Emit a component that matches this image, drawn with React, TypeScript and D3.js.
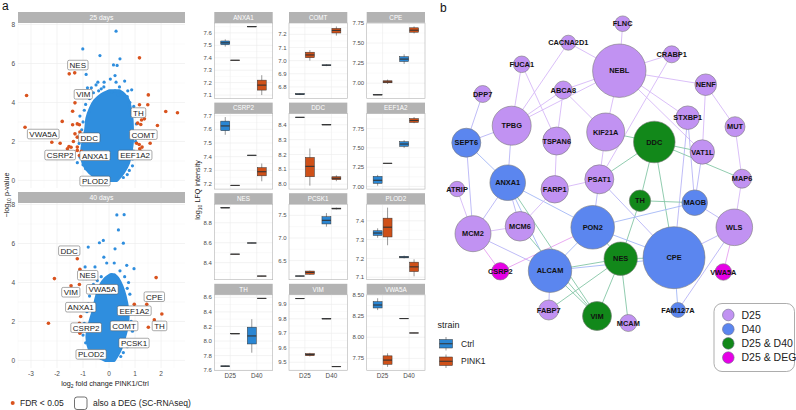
import React from "react";
import * as d3 from "d3";

const W = 796, H = 410;
const FONT = "'Liberation Sans', Arial, Helvetica, sans-serif";

// ---------- Volcano data ----------
const volcanoFacets = ["25 days", "40 days"];
const volcanoXTicks = [-3, -2, -1, 0, 1, 2];
const volcanoYTicks = [0, 2, 4, 6, 8];

const sig25: number[][] = [[-3.17,4.36],[-3.23,2.73],[-2.2,1.96],[-1.88,1.91],[-1.8,3.03],[-1.53,5.47],[-1.32,5.52],[-1.4,3.55],[-1.31,3.98],[-1.4,2.86],[-1.22,2.9],[-1.14,2.86],[-1.31,2.39],[-1.22,2.22],[-1.37,2.0],[-1.54,1.74],[-1.6,1.62],[-1.46,1.7],[-1.22,1.71],[-1.22,1.54],[-1.14,1.28],[-1.06,1.5],[-1.12,2.48],[1.17,6.29],[1.51,4.39],[1.17,3.88],[1.49,3.88],[1.32,3.45],[1.36,3.16],[1.25,3.1],[1.1,2.94],[1.22,2.87],[1.86,2.82],[2.18,3.54],[2.63,3.47],[1.06,1.91],[1.16,1.84],[1.27,1.71],[1.18,1.62],[1.58,1.91],[1.22,1.5]];
const blue25: number[][] = [[0.27,7.66],[-1.01,6.75],[-0.35,6.41],[0.17,5.93],[0.31,5.9],[0.42,6.24],[0.23,5.38],[-0.88,5.44],[-0.43,5.04],[-0.19,5.04],[0.27,5.04],[-0.83,4.75],[-0.68,4.75],[0.23,4.6],[0.87,4.65],[-1.22,0.91],[0.78,0.51],[-0.6,4.5],[-0.4,4.6],[0.1,4.55],[0.5,4.5],[0.7,4.3],[-0.75,4.2],[0.95,3.8],[1.0,3.3],[-0.95,3.6],[-1.0,3.0],[-1.05,2.6],[1.0,2.5],[-1.15,1.9],[0.95,1.5],[0.9,1.1],[-1.0,0.8],[-0.9,0.6],[0.7,0.3],[-0.5,0.2],[0.8,4.0],[-0.5,4.9],[0.05,5.2],[0.6,5.1],[-0.2,4.8],[0.4,4.8],[-0.9,3.9],[0.92,3.55],[-1.08,2.2],[1.02,2.0],[-1.12,1.2],[0.9,0.75],[-0.7,0.1],[0.55,0.15],[-0.3,4.7],[0.35,4.4],[0.72,4.6],[-0.8,4.45],[1.05,2.9],[-1.12,3.3]];
const cloud25: number[][] = [[0.0,-0.25,0.3],[0.4,-0.75,0.55],[0.9,-1.0,0.75],[1.5,-1.05,0.85],[2.0,-1.0,0.9],[2.6,-0.9,0.9],[3.2,-0.85,0.88],[3.7,-0.72,0.82],[4.1,-0.55,0.75],[4.4,-0.3,0.6],[4.6,0.0,0.4]];
const labels25: [string, number, number][] = [["NES",-1.2,5.92],["VIM",-0.99,4.42],["TH",1.13,3.48],["VWA5A",-2.53,2.38],["COMT",1.32,2.35],["DDC",-0.76,2.19],["CSRP2",-1.88,1.3],["ANXA1",-0.54,1.27],["EEF1A2",1.0,1.3],["PLOD2",-0.54,-0.03]];

const sig40: number[][] = [[-2.1,4.2],[-2.33,1.91],[-1.22,5.22],[-1.12,4.68],[-1.46,3.83],[-1.14,3.9],[-1.57,2.67],[-1.09,2.25],[-1.14,1.91],[-1.12,1.4],[-1.06,1.5],[0.97,2.88],[1.45,2.88],[1.81,4.25],[2.03,2.38],[1.74,2.08],[1.51,1.7]];
const blue40: number[][] = [[0.3,7.47],[0.58,7.48],[0.36,6.7],[-0.22,6.16],[-0.37,6.04],[0.55,6.02],[0.23,5.73],[-0.8,5.82],[-0.09,5.0],[-0.54,4.8],[-0.92,4.8],[0.68,4.88],[0.96,4.71],[0.42,4.6],[-0.55,4.5],[-0.88,4.2],[-0.3,4.3],[0.1,4.4],[0.6,4.3],[0.75,4.0],[-0.6,3.9],[-0.75,3.3],[0.8,3.4],[0.85,2.7],[-0.85,2.5],[-0.95,1.9],[0.85,2.0],[-1.0,1.3],[0.75,1.0],[-0.9,0.9],[-0.7,0.5],[0.55,0.4],[-0.3,0.1],[0.9,1.5],[-0.2,5.3],[0.2,5.0],[-0.45,4.1],[0.3,4.2],[-0.65,3.6],[0.7,3.7],[-0.8,2.9],[0.8,2.4],[-0.92,1.6],[0.7,0.7],[-0.5,0.25],[0.45,0.2]];
const cloud40: number[][] = [[0,-0.15,0.2],[0.5,-0.72,0.42],[1.2,-0.85,0.6],[1.9,-0.75,0.72],[2.6,-0.6,0.72],[3.3,-0.48,0.62],[3.8,-0.36,0.5],[4.2,-0.15,0.35],[4.4,0.05,0.2]];
const labels40: [string, number, number][] = [["DDC",-1.53,5.63],["NES",-0.82,4.37],["VIM",-1.47,3.5],["VWA5A",-0.26,3.65],["CPE",1.74,3.27],["ANXA1",-1.09,2.73],["EEF1A2",0.97,2.55],["CSRP2",-0.88,1.68],["COMT",0.58,1.77],["TH",1.94,1.77],["PCSK1",0.96,0.89],["PLOD2",-0.69,0.31]];

// ---------- Box plot data ----------
const boxGenes = ["ANXA1","COMT","CPE","CSRP2","DDC","EEF1A2","NES","PCSK1","PLOD2","TH","VIM","VWA5A"];
const days = ["D25", "D40"];
const strains = ["Ctrl", "PINK1"];
// order: D25-Ctrl, D25-PINK1, D40-Ctrl, D40-PINK1 ; [lo, q1, median, q3, hi]
const anxa1 = [[7.49,7.505,7.52,7.535,7.548],[7.378,7.379,7.38,7.381,7.382],[7.648,7.649,7.65,7.651,7.652],[7.10,7.14,7.18,7.22,7.26]];
const comt = [[6.738,6.741,6.745,6.749,6.752],[7.0,7.022,7.043,7.064,7.08],[6.958,6.962,6.965,6.968,6.972],[7.19,7.21,7.23,7.245,7.26]];
const cpe = [[6.852,6.853,6.855,6.857,6.858],[6.99,7.005,7.015,7.03,7.045],[7.24,7.27,7.3,7.33,7.36],[7.62,7.635,7.66,7.69,7.707]];
const csrp2 = [[7.56,7.59,7.625,7.66,7.69],[7.188,7.189,7.19,7.191,7.192],[7.408,7.409,7.41,7.411,7.412],[7.22,7.26,7.29,7.32,7.35]];
const ddc = [[8.448,8.449,8.45,8.451,8.452],[7.99,8.05,8.12,8.18,8.24],[8.398,8.399,8.4,8.401,8.402],[8.02,8.03,8.04,8.05,8.06]];
const eef1a2 = [[7.01,7.04,7.08,7.13,7.15],[7.298,7.299,7.3,7.301,7.302],[7.5,7.52,7.55,7.58,7.6],[7.82,7.83,7.855,7.88,7.9]];
const nes = [[8.948,8.949,8.95,8.951,8.952],[8.483,8.484,8.485,8.486,8.487],[8.595,8.596,8.597,8.598,8.599],[8.263,8.264,8.265,8.266,8.267]];
const pcsk1 = [[6.155,6.157,6.16,6.163,6.165],[6.19,6.2,6.24,6.27,6.28],[7.25,7.31,7.39,7.47,7.55],[7.63,7.64,7.65,7.66,7.67]];
const plod2 = [[7.31,7.322,7.335,7.347,7.36],[7.27,7.314,7.366,7.414,7.47],[7.2,7.203,7.207,7.211,7.215],[7.105,7.13,7.155,7.18,7.195]];
const th = [[7.646,7.65,7.655,7.66,7.662],[8.098,8.099,8.1,8.101,8.102],[7.84,7.96,8.07,8.19,8.3],[8.583,8.584,8.585,8.586,8.587]];
const vim = [[9.938,9.939,9.94,9.941,9.942],[9.54,9.545,9.553,9.56,9.565],[9.798,9.799,9.8,9.801,9.802],[9.468,9.469,9.47,9.471,9.472]];
const vwa5a = [[8.32,8.345,8.38,8.42,8.46],[7.65,7.68,7.73,7.78,7.81],[8.218,8.219,8.22,8.221,8.222],[8.048,8.049,8.05,8.051,8.052]];
const boxData = [anxa1, comt, cpe, csrp2, ddc, eef1a2, nes, pcsk1, plod2, th, vim, vwa5a];
const boxTicks = [[7.1,7.2,7.3,7.4,7.5,7.6],[6.8,6.9,7.0,7.1,7.2],[7.0,7.25,7.5,7.75],[7.2,7.3,7.4,7.5,7.6,7.7],[8.0,8.1,8.2,8.3,8.4],[7.0,7.25,7.5,7.75],[8.4,8.6,8.8],[6.5,7.0,7.5],[7.1,7.2,7.3,7.4],[7.6,7.8,8.0,8.2,8.4,8.6],[9.5,9.6,9.7,9.8,9.9],[7.75,8.0,8.25,8.5]];
const boxTickDigits = [1,1,2,1,1,2,1,1,1,1,1,2];

// ---------- Network data ----------
const nodeNames = ["CACNA2D1","FUCA1","DPP7","ABCA8","TPBG","SEPT6","TSPAN6","ANXA1","FARP1","ATRIP","KIF21A","PSAT1","FLNC","CRABP1","NEBL","NENF","STXBP1","MUT","DDC","VAT1L","MAP6","TH","MAOB","PON2","MCM6","MCM2","CSRP2","ALCAM","FABP7","NES","CPE","WLS","VWA5A","VIM","MCAM","FAM127A"];
const nodeX = [128.3,81.7,42.7,123.3,71.7,26.3,116.7,67.7,114.7,17,165.7,159.3,182.7,231.7,179.3,265.7,247.7,295,214.3,262.3,302,200,254.7,152.7,80,33,60.3,110,108.7,180.7,234,294.3,283.3,157,188.3,238];
const nodeY = [42.7,64.3,94,90,125.7,142.7,141,182.7,189.3,189,132,179.3,23.7,54.3,70.7,84.7,117.7,126.7,142,152,178.7,200.7,202.7,227.3,226.3,233.7,271.3,270.7,310,258.7,257.7,227.3,272,316,323,310];
const nodeSize = [7.5,8.3,8.5,9,19.5,14.5,14,17.8,13.7,7.7,19,14.5,7.8,8.5,26.7,10.8,11.8,10,20.8,12.2,9.5,10.7,12.8,21.8,14.8,18,8.7,21.7,10,16.7,31,18.3,8.3,14.5,8.5,7.5];
const nodeGroup = ["D25","D25","D25","D25","D25","D40","D25","D40","D25","D25","D25","D25","D25","D25","D25","D25","D25","D25","D25 & D40","D25","D25","D25 & D40","D40","D40","D25","D25","D25 & DEG","D40","D25","D25 & D40","D40","D25","D25 & DEG","D25 & D40","D25","D40"];
const groupNames = ["D25","D40","D25 & D40","D25 & DEG"];
const groupColors = ["#c192f2","#5b86ef","#12881a","#e600e6"];
const edges: [string, string][] = [
["FLNC","NEBL"],["NEBL","CRABP1"],["NEBL","CACNA2D1"],["NEBL","NENF"],["NEBL","KIF21A"],["NEBL","STXBP1"],["NEBL","VAT1L"],["NEBL","TPBG"],["NEBL","ABCA8"],
["CRABP1","PSAT1"],["NENF","VAT1L"],["NENF","MUT"],["MUT","MAP6"],["MAP6","WLS"],["STXBP1","CPE"],["STXBP1","MAOB"],
["DDC","VAT1L"],["DDC","MAP6"],["DDC","TH"],["DDC","CPE"],["DDC","PSAT1"],["DDC","KIF21A"],
["VAT1L","MAOB"],["TH","MAOB"],["TH","NES"],["MAOB","WLS"],["MAOB","PON2"],["CPE","WLS"],["CPE","FAM127A"],["WLS","FAM127A"],["WLS","VWA5A"],
["CPE","NES"],["CPE","PSAT1"],["CPE","ALCAM"],["NES","ALCAM"],["NES","VIM"],["NES","MCAM"],["NES","PON2"],["NES","FABP7"],
["ALCAM","VIM"],["ALCAM","FABP7"],["ALCAM","MCM2"],["ALCAM","PON2"],["ALCAM","ANXA1"],["CSRP2","PON2"],["CSRP2","MCM2"],
["MCM2","ANXA1"],["MCM2","MCM6"],["MCM2","SEPT6"],["MCM2","ATRIP"],["ANXA1","TPBG"],["ANXA1","PON2"],["ANXA1","MCM6"],["ANXA1","SEPT6"],
["SEPT6","TPBG"],["SEPT6","DPP7"],["TPBG","ABCA8"],["TPBG","CACNA2D1"],["ABCA8","TSPAN6"],["ABCA8","KIF21A"],["FUCA1","TSPAN6"],["FUCA1","TPBG"],
["TSPAN6","FARP1"],["FARP1","PSAT1"],["FARP1","MCM6"],["PSAT1","KIF21A"],["PSAT1","PON2"],["MCM6","VIM"],["PON2","CPE"],["ANXA1","VIM"]];

// ---------- helpers ----------
const RED = "#d9531e";
const BLUE = "#2f8ede";
const CTRL = "#2a86d3";
const PINK = "#cf5018";
const GRID = "#ebebeb";
const GRIDMINOR = "#f4f4f4";
const STRIP = "#b3b3b3";

let _ctx: CanvasRenderingContext2D | null = null;
function measure(text: string, font: string): number {
  if (!_ctx) _ctx = document.createElement("canvas").getContext("2d");
  if (!_ctx) return text.length * 5;
  _ctx.font = font;
  return _ctx.measureText(text).width;
}

const VX0 = 18, VX1 = 185;

function Volcano(props: { top: number; bottom: number; title: string; sig: number[][]; blue: number[][]; cloud: number[][]; labels: [string, number, number][]; showX: boolean }) {
  const { top, bottom, title, sig, blue, cloud, labels, showX } = props;
  const x = d3.scaleLinear().domain([-3.5, 2.92]).range([VX0, VX1]);
  const y = d3.scaleLinear().domain([-0.39, 8.08]).range([bottom, top]);
  const area = d3.area<number[]>().y(d => y(d[0])).x0(d => x(d[1])).x1(d => x(d[2])).curve(d3.curveCatmullRom);
  const minorX = d3.range(-3.5, 3, 1);
  const minorY = [1, 3, 5, 7];
  const lf = `8px ${FONT}`;
  return (
    <g>
      <rect x={VX0} y={top - 11} width={VX1 - VX0} height={11} fill={STRIP} />
      <text x={(VX0 + VX1) / 2} y={top - 3.2} textAnchor="middle" fontSize={6.8} fill="white">{title}</text>
      {minorX.map(v => <line key={"mx" + v} x1={x(v)} x2={x(v)} y1={top} y2={bottom} stroke={GRIDMINOR} strokeWidth={0.5} />)}
      {minorY.map(v => <line key={"my" + v} x1={VX0} x2={VX1} y1={y(v)} y2={y(v)} stroke={GRIDMINOR} strokeWidth={0.5} />)}
      {volcanoXTicks.map(v => <line key={"gx" + v} x1={x(v)} x2={x(v)} y1={top} y2={bottom} stroke={GRID} strokeWidth={0.6} />)}
      {volcanoYTicks.map(v => <line key={"gy" + v} x1={VX0} x2={VX1} y1={y(v)} y2={y(v)} stroke={GRID} strokeWidth={0.6} />)}
      {volcanoYTicks.map(v => <text key={"ty" + v} x={VX0 - 3} y={y(v) + 2.3} textAnchor="end" fontSize={6.5} fill="#4d4d4d">{v}</text>)}
      {showX && volcanoXTicks.map(v => <text key={"tx" + v} x={x(v)} y={bottom + 8} textAnchor="middle" fontSize={6.5} fill="#4d4d4d">{v}</text>)}
      <path d={area(cloud) || ""} fill={BLUE} stroke={BLUE} strokeWidth={3} strokeLinejoin="round" />
      {blue.map((d, i) => <circle key={"b" + i} cx={x(d[0])} cy={y(d[1])} r={1.6} fill={BLUE} />)}
      {sig.map((d, i) => <circle key={"s" + i} cx={x(d[0])} cy={y(d[1])} r={1.8} fill={RED} />)}
      {labels.map(([name, lx, ly]) => {
        const w = measure(name, lf) + 4;
        const cx = x(lx), cy = y(ly);
        return (
          <g key={name}>
            <rect x={cx - w / 2} y={cy - 4.8} width={w} height={9.6} rx={1.5} fill="white" stroke="#555" strokeWidth={0.5} />
            <text x={cx} y={cy + 2.9} textAnchor="middle" fontSize={8} fill="#222">{name}</text>
          </g>
        );
      })}
    </g>
  );
}

const BCOLS = [[214.3, 272.7], [289, 347.3], [366.7, 425]];

function BoxPanel(props: { idx: number }) {
  const i = props.idx;
  const row = Math.floor(i / 3), col = i % 3;
  const [x0, x1] = BCOLS[col];
  const stripTop = 12 + row * 90.6;
  const top = stripTop + 11, bottom = stripTop + 86.5;
  const data = boxData[i];
  const lo = d3.min(data, d => d[0]) as number;
  const hi = d3.max(data, d => d[4]) as number;
  const pad = (hi - lo) * 0.05;
  const y = d3.scaleLinear().domain([lo - pad, hi + pad]).range([bottom, top]);
  const x = d3.scaleLinear().domain([0.4, 2.6]).range([x0, x1]);
  const eps = (hi - lo) * 0.01;
  const ticks = boxTicks[i].filter(t => t >= lo - pad - eps && t <= hi + pad + eps);
  const minor: number[] = [];
  const step = boxTicks[i][1] - boxTicks[i][0];
  for (let t = boxTicks[i][0] - step / 2; t <= hi + pad; t += step) if (t >= lo - pad) minor.push(t);
  const hw = 0.16875;
  return (
    <g>
      <rect x={x0} y={stripTop} width={x1 - x0} height={11} fill={STRIP} />
      <text x={(x0 + x1) / 2} y={stripTop + 7.8} textAnchor="middle" fontSize={6.3} fill="white">{boxGenes[i]}</text>
      {minor.map((t, k) => <line key={"m" + k} x1={x0} x2={x1} y1={y(t)} y2={y(t)} stroke={GRIDMINOR} strokeWidth={0.5} />)}
      {ticks.map(t => <line key={"g" + t} x1={x0} x2={x1} y1={y(t)} y2={y(t)} stroke={GRID} strokeWidth={0.6} />)}
      {[1, 2].map(d => <line key={"v" + d} x1={x(d)} x2={x(d)} y1={top} y2={bottom} stroke={GRID} strokeWidth={0.6} />)}
      {ticks.map(t => <text key={"t" + t} x={x0 - 2.5} y={y(t) + 2.1} textAnchor="end" fontSize={6} fill="#4d4d4d">{t.toFixed(boxTickDigits[i])}</text>)}
      {data.map((b, k) => {
        const day = Math.floor(k / 2) + 1;
        const s = k % 2;
        const cx = x(day + (s === 0 ? -0.1875 : 0.1875));
        const bw = x(hw) - x(0);
        const fill = s === 0 ? CTRL : PINK;
        return (
          <g key={k}>
            <line x1={cx} x2={cx} y1={y(b[0])} y2={y(b[4])} stroke="#333" strokeWidth={0.5} />
            <rect x={cx - bw} y={y(b[3])} width={bw * 2} height={Math.max(0.01, y(b[1]) - y(b[3]))} fill={fill} stroke="#333" strokeWidth={0.5} />
            <line x1={cx - bw} x2={cx + bw} y1={y(b[2])} y2={y(b[2])} stroke="#333" strokeWidth={1.1} />
          </g>
        );
      })}
      <rect x={x0} y={top} width={x1 - x0} height={bottom - top} fill="none" stroke={STRIP} strokeWidth={0.6} />
      {row === 3 && days.map((d, k) => <text key={d} x={x(k + 1)} y={bottom + 7.5} textAnchor="middle" fontSize={6.3} fill="#4d4d4d">{d}</text>)}
    </g>
  );
}

function Network() {
  const nx = d3.scaleLinear().domain([0, 356]).range([440, 796]);
  const ny = d3.scaleLinear().domain([0, 410]).range([0, 410]);
  const nr = d3.scaleLinear().domain([0, 10]).range([0, 10]);
  const idx = new Map(nodeNames.map((n, i) => [n, i] as [string, number]));
  const col = (g: string) => groupColors[groupNames.indexOf(g)];
  const edgeColor = (a: number, b: number) => {
    const ga = nodeGroup[a], gb = nodeGroup[b];
    if (ga === "D25 & D40" || gb === "D25 & D40") return "#84c6a6";
    if (ga === "D25 & DEG" || gb === "D25 & DEG") return "#e7a0f0";
    if (ga === "D40" && gb === "D40") return "#a4b8f6";
    if (ga === "D40" || gb === "D40") return "#b8b4f6";
    return "#d6b8f7";
  };
  return (
    <g>
      {edges.map(([a, b], k) => {
        const ia = idx.get(a)!, ib = idx.get(b)!;
        return <line key={k} x1={nx(nodeX[ia])} y1={ny(nodeY[ia])} x2={nx(nodeX[ib])} y2={ny(nodeY[ib])} stroke={edgeColor(ia, ib)} strokeWidth={0.9} />;
      })}
      {nodeNames.map((n, i) => <circle key={n} cx={nx(nodeX[i])} cy={ny(nodeY[i])} r={nr(nodeSize[i])} fill={col(nodeGroup[i])} stroke="#7a7a7a" strokeWidth={0.6} />)}
      {nodeNames.map((n, i) => <text key={"l" + n} x={nx(nodeX[i])} y={ny(nodeY[i]) + 2.6} textAnchor="middle" fontSize={7.4} fontWeight="bold" fill="#111">{n}</text>)}
      <rect x={714} y={303.5} width={80.5} height={68} rx={8} fill="white" stroke="#8a8a8a" strokeWidth={0.7} />
      {groupNames.map((g, k) => (
        <g key={g}>
          <circle cx={728.3} cy={315 + k * 14.2} r={5.8} fill={groupColors[k]} stroke="#6a6a8a" strokeWidth={0.6} />
          <text x={741.5} y={315 + k * 14.2 + 3.6} fontSize={10.5} fill="#222">{g}</text>
        </g>
      ))}
    </g>
  );
}

export default function App() {
  return (
    <svg width={W} height={H} style={{ position: "absolute", left: 0, top: 0, fontFamily: FONT }} fontFamily={FONT}>
      <rect width={W} height={H} fill="white" />
      <text x={2} y={10} fontSize={12} fill="#111">a</text>
      <text x={440} y={12} fontSize={12} fill="#111">b</text>
      <Volcano top={23} bottom={188} title={volcanoFacets[0]} sig={sig25} blue={blue25} cloud={cloud25} labels={labels25} showX={false} />
      <Volcano top={203} bottom={368} title={volcanoFacets[1]} sig={sig40} blue={blue40} cloud={cloud40} labels={labels40} showX={true} />
      <text x={105} y={386} textAnchor="middle" fontSize={7.2} fill="#222">log<tspan fontSize={5} dy={2}>2</tspan><tspan dy={-2}> fold change PINK1/Ctrl</tspan></text>
      <text transform="translate(8.5,195) rotate(-90)" textAnchor="middle" fontSize={7.2} fill="#222">−log<tspan fontSize={5} dy={2}>10</tspan><tspan dy={-2}> p-value</tspan></text>
      <circle cx={12.7} cy={403} r={2} fill={RED} />
      <text x={20} y={406} fontSize={8.5} fill="#222">FDR &lt; 0.05</text>
      <rect x={74.5} y={397} width={12.5} height={12.5} rx={2.5} fill="white" stroke="#333" strokeWidth={0.7} />
      <text x={93} y={406} fontSize={8.5} fill="#222">also a DEG (SC-RNAseq)</text>
      {boxGenes.map((g, i) => <BoxPanel key={g} idx={i} />)}
      <text transform="translate(199.5,190) rotate(-90)" textAnchor="middle" fontSize={7.2} fill="#222">log<tspan fontSize={5} dy={2}>10</tspan><tspan dy={-2}> LFQ intensity</tspan></text>
      <text x={437.5} y={327.5} fontSize={9} fill="#222">strain</text>
      {strains.map((s, k) => {
        const ky = 339.5 + k * 17.5;
        return (
          <g key={s}>
            <line x1={446} x2={446} y1={ky - 2.5} y2={ky + 11} stroke="#333" strokeWidth={0.5} />
            <rect x={439.5} y={ky} width={13} height={8.5} fill={k === 0 ? CTRL : PINK} stroke="#333" strokeWidth={0.5} />
            <line x1={439.5} x2={452.5} y1={ky + 4.25} y2={ky + 4.25} stroke="#333" strokeWidth={1} />
            <text x={461} y={ky + 7.3} fontSize={8.5} fill="#222">{s}</text>
          </g>
        );
      })}
      <Network />
    </svg>
  );
}
